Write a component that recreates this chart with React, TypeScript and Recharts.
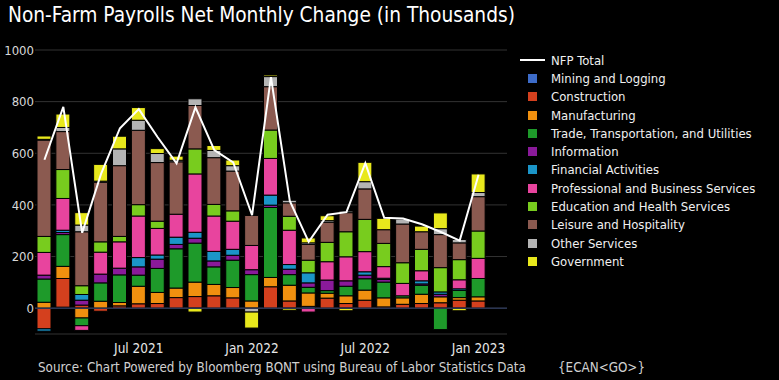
import {
  ComposedChart, Bar, Line, XAxis, YAxis, CartesianGrid, Legend, ReferenceLine,
} from 'recharts'

const months = [
  'Feb 2021', 'Mar 2021', 'Apr 2021', 'May 2021', 'Jun 2021', 'Jul 2021',
  'Aug 2021', 'Sep 2021', 'Oct 2021', 'Nov 2021', 'Dec 2021', 'Jan 2022',
  'Feb 2022', 'Mar 2022', 'Apr 2022', 'May 2022', 'Jun 2022', 'Jul 2022',
  'Aug 2022', 'Sep 2022', 'Oct 2022', 'Nov 2022', 'Dec 2022', 'Jan 2023',
]

const mining        = [0, 4, 0, 0, 0, 0, 0, 0, 0, 0, 0, 0, 0, 0, 7, 0, 0, 0, 0, 0, 0, 0, 0, 0]
const construction  = [-80, 111, 12, -12, 9, 17, 18, 41, 45, 48, 40, 0, 83, 28, 0, 39, 18, 31, 5, 15, 18, 21, 31, 28]
const manufacturing = [23, 47, -38, 27, 13, 68, 43, 37, 56, 44, 40, 28, 36, 61, 52, 19, 30, 39, 35, 25, 36, 23, 10, 16]
const trade         = [90, 123, -30, 71, 107, 43, 93, 152, 151, 68, 106, 102, 271, 41, 22, 10, 37, 44, 61, 8, 35, -83, 28, 71]
const information   = [15, 8, 19, 34, 26, 32, 36, 17, 19, 23, 19, 19, 9, 21, 17, 41, 21, 14, 10, 0, 5, 10, 0, 0]
const financial     = [-9, 9, 22, 0, 0, 36, 16, 28, 23, 37, 23, 0, 39, 18, 39, 0, 0, 13, 5, 0, 12, 9, 6, 0]
const professional  = [88, 123, -18, 85, 102, 161, 103, 89, 226, 137, 109, 94, 142, 133, -15, 71, 93, 78, 45, 48, 39, 0, 35, 78]
const education     = [62, 112, 34, 40, 21, 44, 28, 0, 97, 45, 40, 0, 110, 54, 49, 75, 97, 125, 90, 80, 83, 94, 78, 106]
const leisure       = [373, 147, 209, 231, 274, 288, 227, 203, 168, 181, 154, 116, 168, 52, 61, 78, 74, 118, 53, 150, 68, 128, 65, 133]
const other         = [3, 16, 26, 4, 65, 39, 35, 6, 26, 28, 21, -15, 39, 10, 6, 6, 6, 28, 0, 19, 0, 23, 13, 16]
const government    = [13, 52, 48, 65, 49, 49, 19, 16, -15, 19, 22, -62, 6, -8, 19, 19, -10, 75, 44, 0, 22, 61, -10, 72]

const nfpTotal = [575, 780, 292, 520, 697, 771, 662, 561, 778, 612, 565, 360, 895, 415, 257, 362, 372, 562, 350, 347, 325, 295, 262, 517]

const yTicks = [0, 200, 400, 600, 800, 1000]

const sectors = [
  { key: 'mining', name: 'Mining and Logging', color: '#3d6cc9', values: mining },
  { key: 'construction', name: 'Construction', color: '#d4401e', values: construction },
  { key: 'manufacturing', name: 'Manufacturing', color: '#f0900f', values: manufacturing },
  { key: 'trade', name: 'Trade, Transportation, and Utilities', color: '#1e9a2a', values: trade },
  { key: 'information', name: 'Information', color: '#8a1a9a', values: information },
  { key: 'financial', name: 'Financial Activities', color: '#1b95c8', values: financial },
  { key: 'professional', name: 'Professional and Business Services', color: '#e8449e', values: professional },
  { key: 'education', name: 'Education and Health Services', color: '#78cc1e', values: education },
  { key: 'leisure', name: 'Leisure and Hospitality', color: '#8b5a50', values: leisure },
  { key: 'other', name: 'Other Services', color: '#b4b4b4', values: other },
  { key: 'government', name: 'Government', color: '#e8e81c', values: government },
]

const data = months.map((m, i) => {
  const row: Record<string, string | number> = { month: m, total: nfpTotal[i] }
  sectors.forEach(s => { row[s.key] = s.values[i] })
  return row
})

const FONT = "'DejaVu Sans Condensed', 'DejaVu Sans', sans-serif"

function LegendBox() {
  const row = { height: 18.3, display: 'flex', alignItems: 'center', whiteSpace: 'nowrap' as const }
  return (
    <div style={{ fontFamily: FONT, fontSize: 13, color: '#f0f0f0' }}>
      <div style={row}>
        <span style={{ display: 'inline-block', width: 25, height: 2, background: '#fff', marginLeft: 4, marginRight: 6 }} />
        NFP Total
      </div>
      {sectors.map(s => (
        <div key={s.key} style={row}>
          <span style={{ display: 'inline-block', width: 9, height: 9, background: s.color, marginLeft: 12, marginRight: 14 }} />
          {s.name}
        </div>
      ))}
    </div>
  )
}

export default function App() {
  return (
    <div style={{ position: 'absolute', left: 0, top: 0, width: 779, height: 380, background: '#000', overflow: 'hidden' }}>
      <div style={{ position: 'absolute', left: 8, top: 3, fontFamily: FONT, fontSize: 20.7, color: '#fff', whiteSpace: 'nowrap' }}>
        Non-Farm Payrolls Net Monthly Change (in Thousands)
      </div>
      <ComposedChart width={779} height={380} data={data} stackOffset="sign"
        margin={{ top: 50, right: 272, bottom: 30, left: 0 }}>
        <CartesianGrid vertical={false} stroke="#333" />
        <XAxis dataKey="month" interval={0} axisLine={false} tickLine={false} tickSize={0} tickMargin={9} height={16}
          padding={{ left: 0, right: 19 }}
          tickFormatter={(v: string) => (v.startsWith('Jan') || v.startsWith('Jul') ? v : '')}
          tick={{ fill: '#e8e8e8', fontSize: 13.5, fontFamily: FONT }} />
        <YAxis domain={[-100, 1000]} ticks={yTicks} width={35} axisLine={false} tickLine={false} tickSize={0} tickMargin={1}
          tick={{ fill: '#d8d8d8', fontSize: 13, fontFamily: FONT }} />
        <ReferenceLine y={0} stroke="#2a3552" strokeWidth={1.5} />
        {sectors.map(s => (
          <Bar key={s.key} dataKey={s.key} name={s.name} stackId="a" fill={s.color} stroke="#000" strokeWidth={1}
            barSize={14} isAnimationActive={false} />
        ))}
        <Line type="linear" dataKey="total" name="NFP Total" stroke="#fff" strokeWidth={2} dot={false} isAnimationActive={false} />
        <Legend layout="vertical" align="center" verticalAlign="middle" content={() => <LegendBox />}
          wrapperStyle={{ position: 'absolute', left: 516, top: 51, width: 262, height: 'auto' }} />
      </ComposedChart>
      <div style={{ position: 'absolute', left: 38, top: 360, fontFamily: FONT, fontSize: 13.3, color: '#d0d0d0', whiteSpace: 'nowrap' }}>
        Source: Chart Powered by Bloomberg BQNT using Bureau of Labor Statistics Data
      </div>
      <div style={{ position: 'absolute', left: 558, top: 360, fontFamily: FONT, fontSize: 13.3, color: '#d0d0d0', whiteSpace: 'nowrap' }}>
        {'{ECAN<GO>}'}
      </div>
    </div>
  )
}
